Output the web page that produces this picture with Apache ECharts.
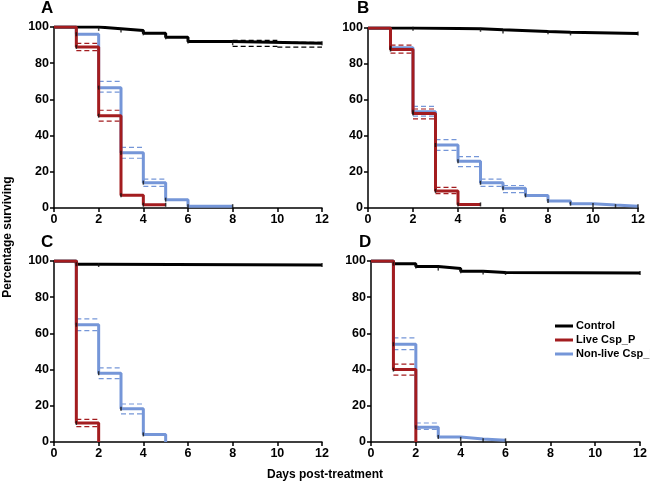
<!DOCTYPE html>
<html><head><meta charset="utf-8">
<script src="https://cdn.jsdelivr.net/npm/echarts@6/dist/echarts.min.js"></script>
<style>html,body{margin:0;padding:0;background:#fff}#c{width:650px;height:491px}</style>
</head><body><div id="c"></div>
<script>
// ---- data ----
const panels = ['A','B','C','D'];
const xTicks = [0,2,4,6,8,10,12];
const yTicks = [0,20,40,60,80,100];
const seriesNames = ['Control','Live Csp_P','Non-live Csp_P'];
// step survival curves: [day, % surviving from that day]
const controlA = [[0,100],[2,99],[3,98],[4,96.5],[5,94.3],[6,92],[8,91],[12,91]];
const liveA    = [[0,100],[1,89],[2,51],[3,7],[4,1.8],[5,1.8]];
const nonliveA = [[0,100],[1,96],[2,66.5],[3,30.5],[4,14],[5,4.6],[6,1],[8,1]];
const controlB = [[0,100],[2,99.6],[5,99],[6,98],[8,97.6],[9,97],[12,97]];
const liveB    = [[0,100],[1,88],[2,52.5],[3,9.5],[4,2],[5,2]];
const nonliveB = [[0,100],[1,89],[2,53.5],[3,35],[4,26],[5,14],[6,11],[7,7],[8,3.9],[9,2.4],[10,1.6],[11,1],[12,1]];
const controlC = [[0,100],[1,98.2],[2,97.8],[12,97.8]];
const liveC    = [[0,100],[1,10.5],[2,0]];
const nonliveC = [[0,100],[1,64.8],[2,38],[3,18.4],[4,4.2],[5,0]];
const controlD = [[0,100],[1,98.5],[2,96.9],[3,95.8],[4,94.3],[5,93.7],[6,93.4],[12,93.4]];
const liveD    = [[0,100],[1,40],[2,0]];
const nonliveD = [[0,100],[1,54],[2,8.2],[3,2.8],[4,1.7],[5,0.9],[6,0.9]];
// confidence bands: [day start, day end, upper, lower]
const ciControlA = [[8,10,92.6,89.3],[10,12,91.5,88.9]];
const ciLiveA    = [[1,2,91,87],[2,3,54,48]];
const ciNonliveA = [[2,3,70,64],[3,4,33.5,27.5],[4,5,16,12]];
const ciControlB = [];
const ciLiveB    = [[1,2,90.5,86],[2,3,55,49.5],[3,4,11.5,8]];
const ciNonliveB = [[2,3,56.5,51],[3,4,38,32],[4,5,28.5,23],[5,6,16,12],[6,7,12.5,8.5]];
const ciControlC = [];
const ciLiveC    = [[1,2,12.5,8.5]];
const ciNonliveC = [[1,2,68,61.5],[2,3,41,35],[3,4,21,15.5]];
const ciControlD = [];
const ciLiveD    = [[1,2,43,37]];
const ciNonliveD = [[1,2,57.5,51],[2,3,10.5,7]];

const curves = [[controlA,liveA,nonliveA],[controlB,liveB,nonliveB],[controlC,liveC,nonliveC],[controlD,liveD,nonliveD]];
const bands  = [[ciControlA,ciLiveA,ciNonliveA],[ciControlB,ciLiveB,ciNonliveB],[ciControlC,ciLiveC,ciNonliveC],[ciControlD,ciLiveD,ciNonliveD]];

// ---- layout / style ----
const colors = ['#000000','#a31c1f','#7596d8'];
const grids = [
  {left:54, top:27, width:268, height:181},
  {left:368, top:28, width:270, height:180},
  {left:54, top:261, width:268, height:181},
  {left:371, top:261, width:270, height:181}
];
const labelPos = [[47,8],[363,8],[47,242],[365,242]];
const font = 'Liberation Sans, Arial, sans-serif';

const xAxes = grids.map((g,i)=>({
  gridIndex:i, type:'value', min:0, max:12, interval:2,
  axisLine:{lineStyle:{color:'#000',width:1.5}},
  axisTick:{show:true,length:4,lineStyle:{color:'#000',width:1.5}},
  axisLabel:{color:'#000',fontWeight:'bold',fontSize:12.5,fontFamily:font,margin:5},
  splitLine:{show:false}
}));
const yAxes = grids.map((g,i)=>({
  gridIndex:i, type:'value', min:0, max:100, interval:20,
  axisLine:{show:true,lineStyle:{color:'#000',width:1.5}},
  axisTick:{show:true,length:4,lineStyle:{color:'#000',width:1.5}},
  axisLabel:{color:'#000',fontWeight:'bold',fontSize:12.5,fontFamily:font,margin:5},
  splitLine:{show:false}
}));

const series = [];
for (let p=0;p<4;p++){
  for (let s=0;s<3;s++){
    const segs = bands[p][s];
    if(!segs.length) continue;
    ['upper','lower'].forEach((k,ki)=>{
      const d=[];
      segs.forEach((b,bi)=>{
        if(bi>0) d.push([b[0],'-']);
        d.push([b[0],b[2+ki]]); d.push([b[1],b[2+ki]]);
      });
      series.push({type:'line',xAxisIndex:p,yAxisIndex:p,data:d,symbol:'none',silent:true,
        lineStyle:{color:colors[s],width:1.2,type:[5,3]},z:3});
    });
  }
  for (let s=0;s<3;s++){
    series.push({name:seriesNames[s],type:'line',step:'end',xAxisIndex:p,yAxisIndex:p,
      data:curves[p][s],symbol:'none',lineStyle:{color:colors[s],width:3},itemStyle:{color:colors[s]},
      z: s===2?4:5});
    series.push({type:'scatter',xAxisIndex:p,yAxisIndex:p,silent:true,
      data:curves[p][s].filter(d=>d[0]>0 && d[1]>0),symbol:'rect',symbolSize:[1.5,4],
      itemStyle:{color:'#111'},z:6});
  }
}

const graphic = panels.map((t,i)=>({type:'text',left:labelPos[i][0]-6,top:labelPos[i][1]-8,
  style:{text:t,font:'bold 17px '+font,fill:'#000'}}));
graphic.push({type:'text',x:8,y:237,rotation:Math.PI/2,
  style:{text:'Percentage surviving',font:'bold 12px '+font,fill:'#000',align:'center',verticalAlign:'middle'}});
graphic.push({type:'text',x:325,y:475,
  style:{text:'Days post-treatment',font:'bold 12px '+font,fill:'#000',align:'center',verticalAlign:'middle'}});

const chart = echarts.init(document.getElementById('c'),null,{renderer:'canvas'});
chart.setOption({
  animation:false,
  grid:grids,
  xAxis:xAxes, yAxis:yAxes,
  legend:{data:seriesNames,orient:'vertical',left:550,top:315,itemWidth:18,itemHeight:3,itemGap:2,icon:'rect',
    textStyle:{color:'#000',fontWeight:'bold',fontSize:11,fontFamily:font,padding:[0,0,0,-2],lineHeight:12,overflow:'none'},selectedMode:false},
  graphic:graphic,
  series:series
});
</script></body></html>
